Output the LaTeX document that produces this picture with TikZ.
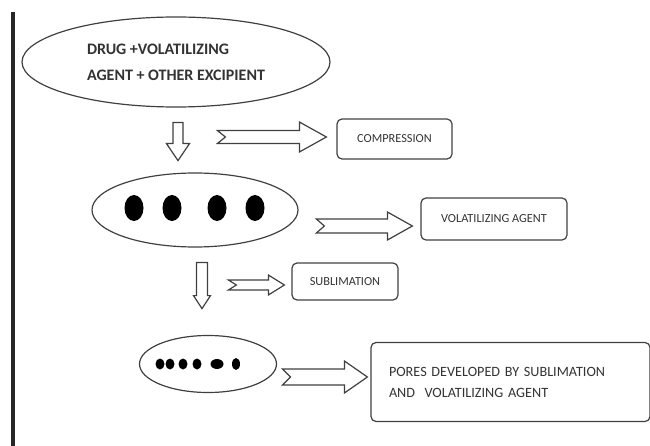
\documentclass[tikz,border=0pt]{standalone}
\usepackage{fontspec}
\setmainfont{Carlito}
\usetikzlibrary{shapes.geometric}
\tikzstyle{bubble} = [draw, ellipse, inner sep=0pt]
\tikzstyle{block} = [draw, rectangle, rounded corners=5pt, inner sep=0pt, text=black!80]
\tikzstyle{hollow} = [draw, fill=white, line join=miter]
\tikzstyle{grain} = [fill=black, ellipse, inner sep=0pt]
% hollow arrow with notched tail, drawn back from its tip
\newcommand{\notcharrow}[5]{\draw[hollow] (#1) -- ++(-#3,-#5) -- ++(0,#5-#4) -- ++(-#2,0) -- ++(8,#4) -- ++(-8,#4) -- ++(#2,0) -- ++(0,#5-#4) -- cycle;}
% hollow arrow pointing down, drawn from the middle of its top
\newcommand{\downfat}[5]{\draw[hollow] (#1) ++(-#4,0) -- ++(0,#2) -- ++(#4-#5,0) -- ++(#5,#3) -- ++(#5,-#3) -- ++(#4-#5,0) -- ++(0,-#2) -- cycle;}

\begin{document}
\begin{tikzpicture}[x=1pt, y=-1pt, line width=1.2pt, draw=black!75]
\useasboundingbox (0,0) rectangle (650,446);
\draw[line width=4pt, black!85] (12.5,12) -- (12.5,446);

\node (mix) [bubble, minimum width=308, minimum height=90, align=left, text=black!80,
  font=\bfseries\fontsize{16}{26}\selectfont] at (176,62) {DRUG +VOLATILIZING\\AGENT + OTHER EXCIPIENT};
\node (tablet) [bubble, minimum width=206, minimum height=74] at (195,210) {};
\foreach \x in {134,172,217,255}
  \node (grain\x) [grain, minimum width=19, minimum height=26] at (\x,208) {};
\node (porous) [bubble, minimum width=137, minimum height=57] at (208,364) {};
\foreach \x in {160,170,183,197}
  \node (pore\x) [grain, minimum width=9, minimum height=11] at (\x,364) {};
\node (pore217) [grain, minimum width=13, minimum height=10] at (217,364) {};
\node (pore236) [grain, minimum width=8, minimum height=12] at (236,364) {};

\node (compr) [block, minimum width=115, minimum height=40, font=\fontsize{12.3}{14}\selectfont] at (394.5,139) {COMPRESSION};
\node (vol) [block, minimum width=146, minimum height=42, font=\fontsize{12.3}{14}\selectfont] at (494,219) {VOLATILIZING AGENT};
\node (subl) [block, minimum width=106, minimum height=37, font=\fontsize{12.3}{14}\selectfont] at (345,281.5) {SUBLIMATION};
\node (pores) [block, minimum width=279, minimum height=79, text width=243, align=left,
  font=\fontsize{14.2}{21}\selectfont] at (510.5,382) {PORES DEVELOPED BY SUBLIMATION\\AND~ VOLATILIZING AGENT};

\downfat{[shift={(2,15)}]mix.south}{21}{17}{5}{11.5}
\downfat{[shift={(7,15)}]tablet.south}{33}{13}{5.5}{8.5}
\notcharrow{[shift={(-10,-2)}]compr.west}{82}{27}{6.5}{15}
\notcharrow{[shift={(-8,7)}]vol.west}{71}{25}{7}{14}
\notcharrow{[shift={(-7,3.5)}]subl.west}{40}{16}{5}{10}
\notcharrow{[shift={(-3,-5)}]pores.west}{62}{23}{8}{16}
\end{tikzpicture}
\end{document}
